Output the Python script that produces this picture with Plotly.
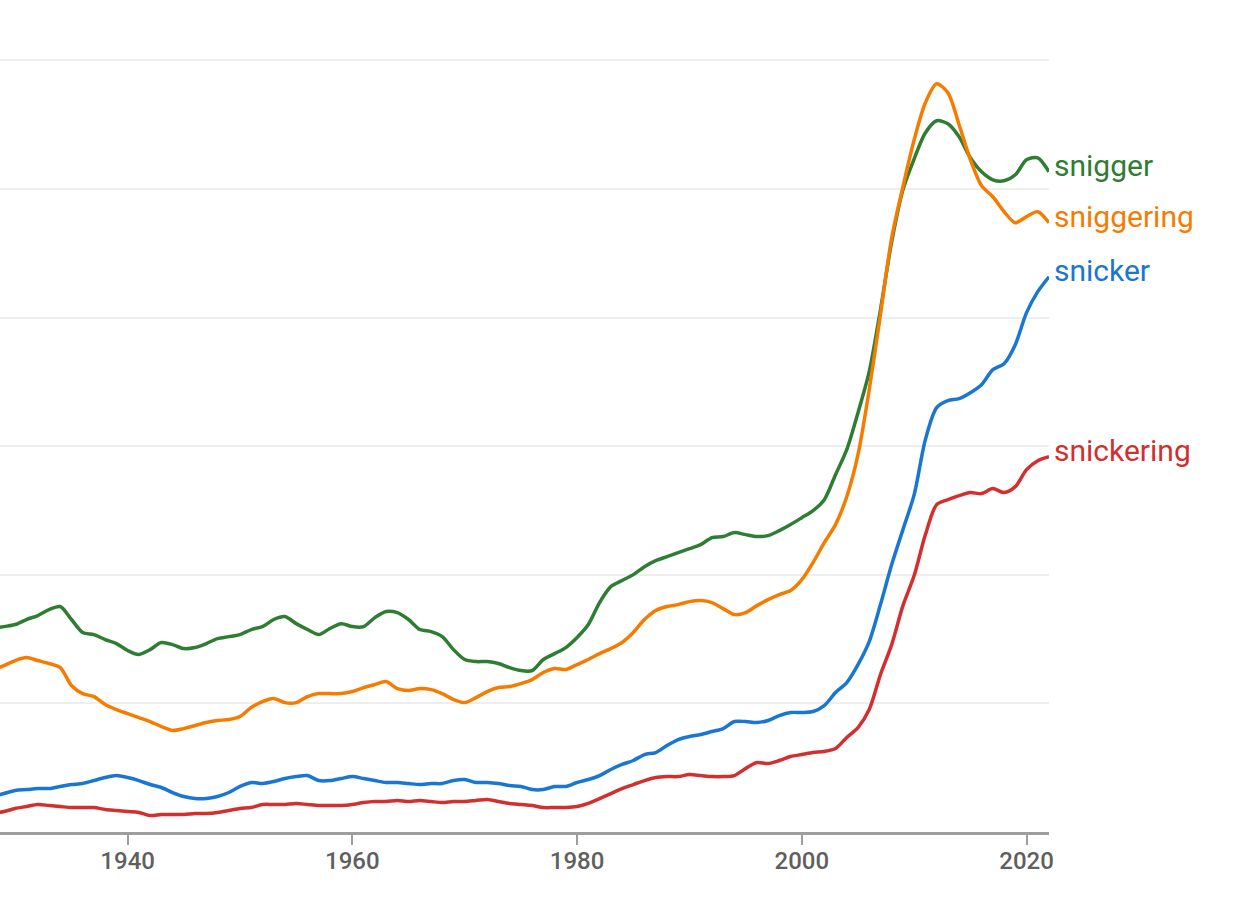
import plotly.graph_objects as go

years = list(range(1928, 2023))

snigger = [1.582, 1.597, 1.613, 1.652, 1.683, 1.729, 1.753, 1.652, 1.551, 1.535,
           1.496, 1.465, 1.411, 1.380, 1.418, 1.473, 1.457, 1.426, 1.434, 1.465,
           1.504, 1.519, 1.535, 1.574, 1.597, 1.652, 1.675, 1.620, 1.574, 1.535,
           1.582, 1.620, 1.597, 1.597, 1.667, 1.714, 1.706, 1.652, 1.574, 1.558,
           1.519, 1.418, 1.341, 1.325, 1.325, 1.310, 1.278, 1.255, 1.255, 1.341,
           1.387, 1.434, 1.512, 1.613, 1.784, 1.908, 1.955, 2.001, 2.063, 2.110,
           2.141, 2.172, 2.203, 2.234, 2.289, 2.297, 2.328, 2.312, 2.297, 2.304,
           2.343, 2.390, 2.444, 2.499, 2.584, 2.778, 2.973, 3.260, 3.579, 4.061,
           4.589, 4.993, 5.234, 5.436, 5.530, 5.506, 5.405, 5.242, 5.133, 5.071,
           5.063, 5.110, 5.227, 5.242, 5.133]

sniggering = [1.263, 1.294, 1.333, 1.356, 1.333, 1.310, 1.278, 1.139, 1.076, 1.053,
              0.991, 0.952, 0.921, 0.890, 0.859, 0.820, 0.789, 0.804, 0.828, 0.851,
              0.867, 0.874, 0.898, 0.968, 1.014, 1.038, 1.006, 1.006, 1.053, 1.076,
              1.076, 1.076, 1.092, 1.123, 1.146, 1.170, 1.115, 1.100, 1.115, 1.107,
              1.076, 1.030, 1.006, 1.045, 1.092, 1.123, 1.131, 1.154, 1.185, 1.240,
              1.271, 1.263, 1.302, 1.341, 1.387, 1.426, 1.473, 1.551, 1.652, 1.722,
              1.753, 1.768, 1.791, 1.799, 1.784, 1.737, 1.690, 1.706, 1.760, 1.807,
              1.846, 1.877, 1.962, 2.095, 2.250, 2.390, 2.607, 2.934, 3.439, 4.022,
              4.620, 5.017, 5.382, 5.670, 5.817, 5.747, 5.499, 5.227, 5.024, 4.939,
              4.823, 4.737, 4.784, 4.823, 4.737]

snicker = [0.276, 0.299, 0.323, 0.330, 0.338, 0.338, 0.354, 0.369, 0.377, 0.400,
           0.424, 0.439, 0.424, 0.400, 0.369, 0.346, 0.307, 0.276, 0.260, 0.260,
           0.276, 0.307, 0.354, 0.385, 0.377, 0.392, 0.416, 0.431, 0.439, 0.400,
           0.400, 0.416, 0.431, 0.416, 0.400, 0.385, 0.385, 0.377, 0.369, 0.377,
           0.377, 0.400, 0.408, 0.385, 0.385, 0.377, 0.361, 0.354, 0.330, 0.330,
           0.354, 0.354, 0.385, 0.408, 0.439, 0.486, 0.525, 0.556, 0.602, 0.618,
           0.672, 0.719, 0.742, 0.758, 0.781, 0.804, 0.859, 0.859, 0.851, 0.867,
           0.905, 0.929, 0.929, 0.937, 0.983, 1.084, 1.162, 1.302, 1.481, 1.768,
           2.079, 2.351, 2.623, 3.051, 3.299, 3.354, 3.369, 3.416, 3.478, 3.595,
           3.641, 3.789, 4.038, 4.201, 4.317]

snickering = [0.144, 0.159, 0.183, 0.198, 0.214, 0.206, 0.198, 0.190, 0.190, 0.190,
              0.175, 0.167, 0.159, 0.152, 0.128, 0.136, 0.136, 0.136, 0.144, 0.144,
              0.152, 0.167, 0.183, 0.190, 0.214, 0.214, 0.214, 0.222, 0.214, 0.206,
              0.206, 0.206, 0.214, 0.229, 0.237, 0.237, 0.245, 0.237, 0.245, 0.237,
              0.229, 0.237, 0.237, 0.245, 0.253, 0.237, 0.222, 0.214, 0.206, 0.190,
              0.190, 0.190, 0.198, 0.222, 0.260, 0.299, 0.338, 0.369, 0.400, 0.424,
              0.431, 0.431, 0.447, 0.439, 0.431, 0.431, 0.439, 0.494, 0.540, 0.532,
              0.556, 0.587, 0.602, 0.618, 0.626, 0.649, 0.734, 0.812, 0.952, 1.224,
              1.457, 1.760, 1.994, 2.312, 2.545, 2.584, 2.615, 2.639, 2.631, 2.670,
              2.639, 2.685, 2.817, 2.887, 2.918]

names = ["snigger", "sniggering", "snicker", "snickering"]
series = [snigger, sniggering, snicker, snickering]
colors = ["#2E7D32", "#F57C00", "#1976D2", "#D32F2F"]

x_ticks = [1940, 1960, 1980, 2000, 2020]
y_grid = [1, 2, 3, 4, 5, 6]

fig = go.Figure()
for name, vals, col in zip(names, series, colors):
    fig.add_trace(go.Scatter(
        x=years, y=vals, mode="lines", name=name,
        line=dict(color=col, width=3.5, shape="spline", smoothing=0.8),
        hoverinfo="skip",
    ))
    fig.add_annotation(
        x=years[-1], y=vals[-1], xref="x", yref="y",
        text=name, showarrow=False, xanchor="left", yanchor="middle",
        xshift=3, yshift=6,
        font=dict(family="Roboto", size=30, color=col),
    )

fig.update_layout(
    width=1248, height=906,
    margin=dict(l=0, r=199, t=59, b=74),
    paper_bgcolor="white", plot_bgcolor="white",
    showlegend=False,
    font=dict(family="Roboto"),
)
fig.update_xaxes(
    range=[1928.64, 2022], tickvals=x_ticks, ticktext=[str(t) for t in x_ticks],
    showgrid=False, zeroline=False,
    showline=True, linecolor="#9e9e9e", linewidth=2.5,
    ticks="outside", ticklen=10, tickwidth=2, tickcolor="#9e9e9e",
    ticklabelstandoff=-5,
    tickfont=dict(family="Roboto", size=24, color="#5f5f5f", weight=500),
)
fig.update_yaxes(
    range=[0, 6.01], tickvals=y_grid, showticklabels=False,
    showgrid=True, gridcolor="#eeeeee", gridwidth=1.5,
    zeroline=False, showline=False,
)

fig.write_html(
    "out.html",
    config={"displayModeBar": False},
    post_script="document.body.style.margin='0';document.body.style.padding='0';",
)
